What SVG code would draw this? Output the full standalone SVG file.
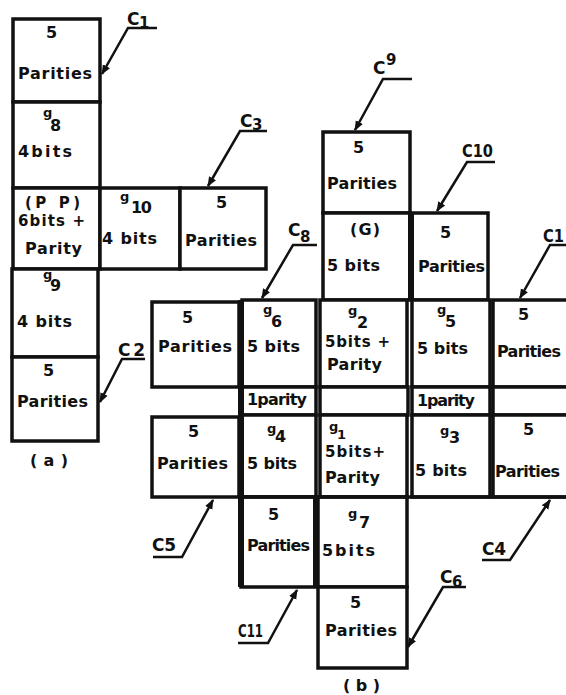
<svg xmlns="http://www.w3.org/2000/svg" width="566" height="695" viewBox="0 0 566 695">
<style>
.box{fill:#fff;stroke:#111;stroke-width:3.5}
.t{font-family:"DejaVu Sans","Liberation Sans",sans-serif;font-size:16px;font-weight:bold;fill:#111}
.g{font-size:13px}
.lb{font-family:"DejaVu Sans","Liberation Sans",sans-serif;font-size:17px;font-weight:bold;fill:#111}
.sub{font-size:15px}
.lead{fill:none;stroke:#111;stroke-width:2.5;marker-end:url(#ah)}
.thick{stroke:#111;stroke-width:6}
</style>
<defs>
<marker id="ah" viewBox="0 0 10 10" refX="9" refY="5" markerWidth="4" markerHeight="4" orient="auto" markerUnits="strokeWidth">
<path d="M0,1 L10,5 L0,9 z" fill="#111"/>
</marker>
</defs>
<rect width="566" height="695" fill="#fff"/>

<!-- (a) -->
<g id="a-c1-parities"><rect class="box" x="13" y="19" width="87" height="83"/>
<text class="t" x="46" y="38">5</text><text class="t" x="18" y="79" textLength="74">Parities</text></g>
<g id="a-g8"><rect class="box" x="13" y="102" width="87" height="86"/>
<text class="t"><tspan class="g" x="43" y="117">g</tspan><tspan x="50" y="131">8</tspan></text>
<text class="t" x="18" y="157" textLength="54">4bits</text></g>
<g id="a-pp"><rect class="box" x="13" y="188" width="87" height="81"/>
<text class="t" x="25" y="208" textLength="55" style="font-size:15px">(P P)</text>
<text class="t" x="18" y="226" textLength="67" style="font-size:15px">6bits +</text>
<text class="t" x="25" y="254" textLength="57">Parity</text></g>
<g id="a-g10"><rect class="box" x="100" y="188" width="80" height="81"/>
<text class="t"><tspan class="g" x="120" y="201">g</tspan><tspan x="131" y="213" textLength="21">10</tspan></text>
<text class="t" x="102" y="244" textLength="55">4 bits</text></g>
<g id="a-c3-parities"><rect class="box" x="180" y="188" width="86" height="81"/>
<text class="t" x="216" y="208">5</text><text class="t" x="185" y="246" textLength="72">Parities</text></g>
<g id="a-g9"><rect class="box" x="12" y="269" width="86" height="88"/>
<text class="t"><tspan class="g" x="43" y="279">g</tspan><tspan x="50" y="291">9</tspan></text>
<text class="t" x="17" y="327" textLength="55">4 bits</text></g>
<g id="a-c2-parities"><rect class="box" x="12" y="357" width="86" height="84"/>
<text class="t" x="43" y="376">5</text><text class="t" x="17" y="407" textLength="71">Parities</text></g>
<text class="t" x="30" y="466" textLength="38">( a )</text>

<!-- (b) -->
<g id="b-c9-parities"><rect class="box" x="323" y="132" width="87" height="81"/>
<text class="t" x="353" y="153">5</text><text class="t" x="327" y="189" textLength="70">Parities</text></g>
<g id="b-G"><rect class="box" x="323" y="213" width="87" height="87"/>
<text class="t" x="350" y="235" textLength="30">(G)</text><text class="t" x="327" y="271" textLength="53">5 bits</text></g>
<g id="b-c10-parities"><rect class="box" x="412" y="213" width="76" height="87"/>
<text class="t" x="440" y="238">5</text><text class="t" x="418" y="272" textLength="67">Parities</text></g>

<g id="b-lp1"><rect class="box" x="152" y="302" width="87" height="85"/>
<text class="t" x="182" y="323">5</text><text class="t" x="158" y="352" textLength="74">Parities</text></g>
<g id="b-g6"><rect class="box" x="242" y="300" width="74" height="87"/>
<text class="t"><tspan class="g" x="263" y="314">g</tspan><tspan x="271" y="327">6</tspan></text>
<text class="t" x="247" y="352" textLength="53">5 bits</text></g>
<g id="b-g2"><rect class="box" x="320" y="300" width="87" height="87"/>
<text class="t"><tspan class="g" x="348" y="315">g</tspan><tspan x="357" y="328">2</tspan></text>
<text class="t" x="325" y="347" textLength="65" style="font-size:15px">5bits +</text>
<text class="t" x="327" y="370" textLength="55">Parity</text></g>
<g id="b-g5"><rect class="box" x="412" y="300" width="78" height="87"/>
<text class="t"><tspan class="g" x="437" y="314">g</tspan><tspan x="445" y="327">5</tspan></text>
<text class="t" x="417" y="354" textLength="51">5 bits</text></g>
<g id="b-rp1"><rect class="box" x="493" y="300" width="80" height="87"/>
<text class="t" x="518" y="320">5</text><text class="t" x="497" y="357" textLength="64">Parities</text></g>

<g id="b-p6"><rect class="box" x="242" y="387" width="74" height="28"/>
<text class="t" x="247" y="405" textLength="60">1parity</text></g>
<g id="b-p2"><rect class="box" x="320" y="387" width="88" height="28"/></g>
<g id="b-p5"><rect class="box" x="412" y="387" width="78" height="28"/>
<text class="t" x="417" y="406" textLength="58">1parity</text></g>
<g id="b-pr"><rect class="box" x="493" y="387" width="80" height="28"/></g>

<g id="b-lp2"><rect class="box" x="152" y="417" width="87" height="80"/>
<text class="t" x="188" y="437">5</text><text class="t" x="157" y="469" textLength="71">Parities</text></g>
<g id="b-g4"><rect class="box" x="242" y="415" width="74" height="82"/>
<text class="t"><tspan class="g" x="267" y="433">g</tspan><tspan x="275" y="442">4</tspan></text>
<text class="t" x="247" y="469" textLength="50">5 bits</text></g>
<g id="b-g1"><rect class="box" x="320" y="415" width="87" height="82"/>
<text class="t"><tspan class="g" x="329" y="431">g</tspan><tspan x="337" y="439" style="font-size:13px">1</tspan></text>
<text class="t" x="325" y="457" textLength="60" style="font-size:15px">5bits+</text>
<text class="t" x="325" y="483" textLength="55">Parity</text></g>
<g id="b-g3"><rect class="box" x="412" y="415" width="78" height="82"/>
<text class="t"><tspan class="g" x="440" y="435">g</tspan><tspan x="449" y="443">3</tspan></text>
<text class="t" x="415" y="476" textLength="52">5 bits</text></g>
<g id="b-rp2"><rect class="box" x="493" y="415" width="80" height="82"/>
<text class="t" x="523" y="435">5</text><text class="t" x="495" y="477" textLength="65">Parities</text></g>

<g id="b-c11-parities"><rect class="box" x="241" y="497" width="75" height="90"/>
<text class="t" x="268" y="520">5</text><text class="t" x="247" y="551" textLength="63">Parities</text></g>
<g id="b-g7"><rect class="box" x="318" y="497" width="89" height="90"/>
<text class="t"><tspan class="g" x="348" y="518">g</tspan><tspan x="359" y="528">7</tspan></text>
<text class="t" x="322" y="556" textLength="53">5bits</text></g>
<g id="b-c6-parities"><rect class="box" x="318" y="587" width="89" height="81"/>
<text class="t" x="350" y="608">5</text><text class="t" x="325" y="636" textLength="72">Parities</text></g>
<text class="t" x="343" y="691" textLength="37">( b )</text>

<g id="thick-lines">
<line class="thick" x1="241" y1="300" x2="241" y2="587"/>
<line class="thick" x1="316" y1="497" x2="316" y2="587"/>
<line class="thick" x1="411" y1="213" x2="411" y2="300"/>
<line x1="240" y1="497" x2="566" y2="497" stroke="#111" stroke-width="3.5"/>
</g>

<g id="connectors">
<path class="lead" d="M157,28 H128 L102,74"/>
<path class="lead" d="M267,131 H240 L208,186"/>
<path class="lead" d="M145,359 H122 L100,402"/>
<path class="lead" d="M317,245 H293 L262,298"/>
<path class="lead" d="M412,79 H383 L355,130"/>
<path class="lead" d="M495,162 H467 L437,211"/>
<path class="lead" d="M566,245 H550 L520,298"/>
<path class="lead" d="M153,557 H182 L213,500"/>
<path class="lead" d="M238,643 H268 L297,590"/>
<path class="lead" d="M482,560 H510 L550,500"/>
<path class="lead" d="M466,587 H443 L408,647"/>
</g>

<g id="labels">
<text class="lb"><tspan x="127" y="25">C</tspan><tspan class="sub" x="139" y="28">1</tspan></text>
<text class="lb"><tspan x="240" y="127">C</tspan><tspan class="sub" x="252" y="130">3</tspan></text>
<text class="lb" x="118" y="356" textLength="27">C2</text>
<text class="lb"><tspan x="288" y="236">C</tspan><tspan class="sub" x="300" y="242">8</tspan></text>
<text class="lb"><tspan x="373" y="74">C</tspan><tspan class="sub" x="386" y="65">9</tspan></text>
<text class="lb" x="462" y="157" textLength="31" lengthAdjust="spacingAndGlyphs">C10</text>
<text class="lb" x="543" y="242" textLength="21" lengthAdjust="spacingAndGlyphs">C1</text>
<text class="lb" x="152" y="551" textLength="24">C5</text>
<text class="lb" x="238" y="637" textLength="25" lengthAdjust="spacingAndGlyphs">C11</text>
<text class="lb" x="482" y="555" textLength="24">C4</text>
<text class="lb"><tspan x="440" y="583">C</tspan><tspan class="sub" x="452" y="587">6</tspan></text>
</g>
</svg>
